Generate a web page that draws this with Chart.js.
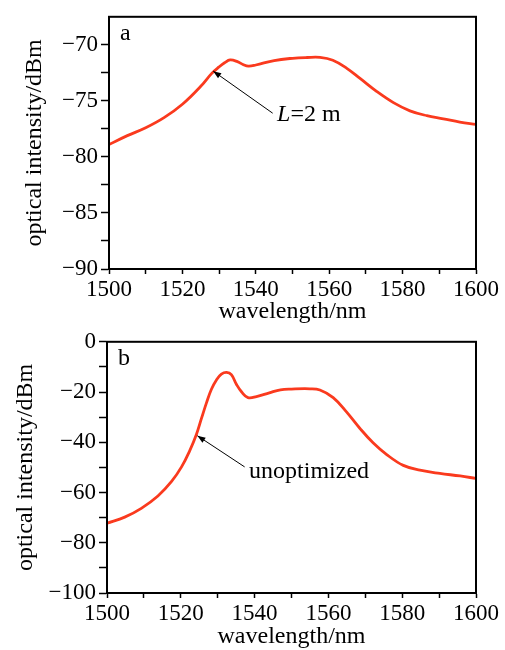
<!DOCTYPE html>
<html>
<head>
<meta charset="utf-8">
<script src="https://cdn.jsdelivr.net/npm/chart.js@4/dist/chart.umd.min.js"></script>
<style>
    html, body { margin: 0; padding: 0; background: #fff; }
    #wrap { position: relative; width: 505px; height: 650px; }
    canvas { position: absolute; left: 0; }
    #chart_a { top: 0; }
    #chart_b { top: 325px; }
</style>
</head>
<body>
<div id="wrap">
    <canvas id="chart_a" width="505" height="325" style="width:505px;height:325px"></canvas>
    <canvas id="chart_b" width="505" height="325" style="width:505px;height:325px"></canvas>
</div>
<script>
// panel a: L = 2 m
const wavelength_a = [1500, 1505, 1510, 1515, 1520, 1525, 1528, 1530, 1531.5, 1533, 1535, 1536.5, 1538,
    1540, 1545, 1550, 1554, 1557.5, 1561, 1564.8, 1568.4, 1572.9, 1577.5, 1582, 1586.6, 1591.1, 1595.6, 1600];
const intensity_a = [-78.9, -78.1, -77.4, -76.5, -75.3, -73.7, -72.55, -71.97, -71.6, -71.35, -71.5, -71.75, -71.9,
    -71.8, -71.4, -71.2, -71.13, -71.12, -71.38, -72.1, -73.0, -74.15, -75.16, -75.89, -76.32, -76.6, -76.9, -77.1];

// panel b: unoptimized
const wavelength_b = [1500, 1504.8, 1509.3, 1513.8, 1517.5, 1520.2, 1522.4, 1524.2, 1525.6, 1527, 1528.3, 1529.7,
    1531, 1532.4, 1533.7, 1535.1, 1536.5, 1538.2, 1540.5, 1544, 1547, 1550, 1555, 1557.7, 1561.3, 1564.9,
    1568.5, 1572.1, 1575.8, 1580.3, 1584.8, 1590.2, 1595.7, 1600];
const intensity_b = [-72.2, -69.8, -66.3, -61.4, -55.6, -49.8, -43.4, -37.0, -30.5, -24.1, -18.9, -15.1,
    -12.9, -12.2, -13.1, -17.0, -20.0, -22.2, -21.8, -20.3, -19.1, -18.8, -18.7, -19.2, -22.2, -27.9,
    -34.4, -40.2, -44.9, -49.2, -51.1, -52.4, -53.4, -54.4];

const x_ticks = [1500, 1510, 1520, 1530, 1540, 1550, 1560, 1570, 1580, 1590, 1600];
const x_labels = [1500, 1520, 1540, 1560, 1580, 1600];
const y_ticks_a = [-90, -87.5, -85, -82.5, -80, -77.5, -75, -72.5, -70];
const y_labels_a = [-90, -85, -80, -75, -70];
const y_ticks_b = [-100, -90, -80, -70, -60, -50, -40, -30, -20, -10, 0];
const y_labels_b = [-100, -80, -60, -40, -20, 0];

const LINE_COLOR = 'rgb(250, 58, 30)';
const FONT_FAMILY = "'Liberation Serif', 'Times New Roman', serif";

function fmt_num(v) {
    return v < 0 ? '\u2212' + Math.abs(v) : String(v);
}

const frame_plugin = {
    id: 'frame',
    afterDraw(chart) {
        const { ctx, chartArea: a } = chart;
        ctx.save();
        ctx.strokeStyle = '#000';
        ctx.lineWidth = 2;
        ctx.strokeRect(a.left, a.top, a.right - a.left, a.bottom - a.top);
        ctx.restore();
    }
};

const callout_plugin = {
    id: 'callout',
    afterDraw(chart, args, opts) {
        if (!opts || !opts.head) {
            return;
        }
        const { ctx, chartArea: a } = chart;
        const xs = chart.scales.x;
        const ys = chart.scales.y;
        const hx = xs.getPixelForValue(opts.head[0]);
        const hy = ys.getPixelForValue(opts.head[1]);
        const tx = xs.getPixelForValue(opts.tail[0]);
        const ty = ys.getPixelForValue(opts.tail[1]);

        ctx.save();
        ctx.strokeStyle = '#000';
        ctx.fillStyle = '#000';
        ctx.lineWidth = 1;
        ctx.beginPath();
        ctx.moveTo(tx, ty);
        ctx.lineTo(hx, hy);
        ctx.stroke();

        const ang = Math.atan2(hy - ty, hx - tx);
        const len = 8;
        const wid = 3;
        ctx.beginPath();
        ctx.moveTo(hx, hy);
        ctx.lineTo(hx - len * Math.cos(ang) + wid * Math.sin(ang), hy - len * Math.sin(ang) - wid * Math.cos(ang));
        ctx.lineTo(hx - len * Math.cos(ang) - wid * Math.sin(ang), hy - len * Math.sin(ang) + wid * Math.cos(ang));
        ctx.closePath();
        ctx.fill();

        let x = xs.getPixelForValue(opts.text_at[0]);
        const y = ys.getPixelForValue(opts.text_at[1]);
        ctx.textBaseline = 'middle';
        ctx.textAlign = 'left';
        for (const [txt, style] of opts.text) {
            ctx.font = `${style} 24px ${FONT_FAMILY}`;
            ctx.fillText(txt, x, y);
            x += ctx.measureText(txt).width;
        }

        ctx.font = `24px ${FONT_FAMILY}`;
        ctx.textBaseline = 'alphabetic';
        ctx.fillText(opts.panel, a.left + 11, a.top + 23);
        ctx.restore();
    }
};

function build_options(cfg) {
    return {
        responsive: false,
        animation: false,
        events: [],
        layout: { padding: { left: 0, top: cfg.pad_top, right: cfg.pad_right, bottom: 0 } },
        plugins: {
            legend: { display: false },
            tooltip: { enabled: false },
            callout: cfg.callout,
        },
        scales: {
            x: {
                type: 'linear',
                min: 1500,
                max: 1600,
                afterBuildTicks: (s) => { s.ticks = x_ticks.map((v) => ({ value: v })); },
                afterFit: (s) => { s.height = cfg.x_height; },
                ticks: {
                    autoSkip: false,
                    maxRotation: 0,
                    padding: 2,
                    color: '#000',
                    font: { family: FONT_FAMILY, size: 23 },
                    callback: (v) => (x_labels.includes(v) ? String(v) : ''),
                },
                grid: { drawOnChartArea: false, drawTicks: true, tickLength: 5, tickColor: '#000', tickWidth: 1.5 },
                border: { display: true, color: '#000', width: 2 },
                title: {
                    display: true,
                    text: 'wavelength/nm',
                    color: '#000',
                    padding: 0,
                    font: { family: FONT_FAMILY, size: 24, lineHeight: 1.1 },
                },
            },
            y: {
                type: 'linear',
                min: cfg.y_min,
                max: cfg.y_max,
                afterBuildTicks: (s) => { s.ticks = cfg.y_ticks.map((v) => ({ value: v })); },
                afterFit: (s) => { s.width = cfg.y_width; },
                ticks: {
                    autoSkip: false,
                    padding: 3,
                    color: '#000',
                    font: { family: FONT_FAMILY, size: 23 },
                    callback: (v) => (cfg.y_labels.includes(v) ? fmt_num(v) : ''),
                },
                grid: { drawOnChartArea: false, drawTicks: true, tickLength: 8, tickColor: '#000', tickWidth: 1.5 },
                border: { display: true, color: '#000', width: 2 },
                title: {
                    display: true,
                    text: 'optical intensity/dBm',
                    color: '#000',
                    padding: { top: cfg.y_title_pad },
                    font: { family: FONT_FAMILY, size: 24, lineHeight: 1.2 },
                },
            },
        },
    };
}

function build_chart(element_id, xs, ys, cfg) {
    const data = xs.map((x, i) => ({ x, y: ys[i] }));
    return new Chart(document.getElementById(element_id), {
        type: 'line',
        data: {
            datasets: [{
                data,
                borderColor: LINE_COLOR,
                borderWidth: 2.8,
                pointRadius: 0,
                tension: 0.4,
                fill: false,
            }],
        },
        options: build_options(cfg),
        plugins: [frame_plugin, callout_plugin],
    });
}

build_chart('chart_a', wavelength_a, intensity_a, {
    pad_top: 11,
    pad_right: 29,
    x_height: 56,
    y_width: 109,
    y_min: -90,
    y_max: -67.5,
    y_ticks: y_ticks_a,
    y_labels: y_labels_a,
    y_title_pad: 20,
    callout: {
        panel: 'a',
        head: [1528.4, -72.35],
        tail: [1544.6, -76.1],
        text_at: [1545.8, -76.2],
        text: [['L', 'italic'], ['=2 m', 'normal']],
    },
});

build_chart('chart_b', wavelength_b, intensity_b, {
    pad_top: 9,
    pad_right: 29,
    x_height: 57,
    y_width: 107,
    y_min: -100,
    y_max: 0,
    y_ticks: y_ticks_b,
    y_labels: y_labels_b,
    y_title_pad: 11,
    callout: {
        panel: 'b',
        head: [1524.5, -37.4],
        tail: [1537.3, -49.8],
        text_at: [1538.5, -51.7],
        text: [['unoptimized', 'normal']],
    },
});
</script>
</body>
</html>
